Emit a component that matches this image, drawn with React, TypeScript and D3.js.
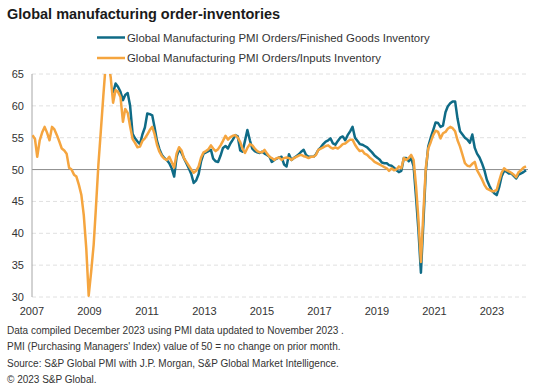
import React, { useRef, useEffect } from 'react';
import * as d3 from 'd3';

// Monthly readings, Jan 2007 .. Nov 2023
const startMonth = new Date(2007, 0, 1);

// Orders / Inputs Inventory (orange)
const inputsRatio: number[] = [
  55.4, 54.8, 52.0, 54.6, 55.8, 56.7, 55.8, 54.6, 56.7, 56.3, 55.4, 54.4,
  53.3, 53.0, 52.5, 50.3, 50.0, 49.2, 48.9, 47.6, 46.0, 42.8, 37.6, 30.2,
  34.0, 38.2, 44.0, 50.8, 56.0, 61.5, 66.5, 67.0, 64.5, 60.5, 62.5, 62.2,
  61.4, 57.5, 59.5, 58.9, 56.8, 54.8, 54.2, 53.5, 53.6, 54.5, 54.9, 55.5,
  56.2, 56.7, 55.6, 53.9, 52.8, 52.1, 51.7, 51.5, 52.0, 51.2, 50.3, 52.5,
  53.5, 53.0, 51.8, 51.2, 50.6, 50.0, 49.5, 49.8, 50.5, 51.9, 52.7, 52.9,
  53.2, 53.8, 53.3, 52.9, 53.2, 53.8, 54.5, 55.3, 54.7, 55.1, 55.3, 55.4,
  55.0, 54.3, 53.3, 52.6, 53.4, 54.0, 53.8, 53.3, 52.9, 52.7, 52.7, 53.1,
  52.5, 52.0, 51.8, 51.5, 51.8, 51.9, 51.5, 51.8, 51.9, 51.8, 51.5, 51.8,
  52.0, 52.2, 52.3, 52.1, 52.0, 51.8, 52.0, 52.0, 52.3, 53.1, 53.3, 53.5,
  53.7, 53.8, 53.5, 53.3, 53.5, 53.3, 53.6, 54.0, 54.1, 54.4, 54.7, 54.7,
  53.9, 53.3, 52.9, 53.0, 52.5, 52.3, 51.9, 51.6, 51.2, 51.0, 50.8, 50.6,
  50.4, 50.2, 49.8, 50.2, 49.9, 50.0, 50.5, 50.2, 51.8, 51.5, 51.8, 52.3,
  51.5, 47.3, 42.1, 35.5, 43.1, 50.3, 53.3, 54.3, 55.4, 56.1, 55.9, 54.9,
  55.7, 55.9, 56.4, 56.7, 56.5, 56.0, 54.6, 53.6, 52.3, 51.0, 50.6, 50.5,
  50.9, 51.2, 49.9, 49.2, 48.5, 47.6, 47.0, 46.8, 46.6, 46.6, 46.8, 48.2,
  49.5, 50.2, 49.9, 49.7, 49.5, 49.2, 48.8, 49.6, 49.9, 50.3, 50.5,
];

// Orders / Finished Goods Inventory (teal), first reading Oct 2009
const finishedOffset = 33;
const finishedRatio: number[] = [
  62.0, 63.5, 63.0,
  62.2, 60.9, 61.7, 62.0, 60.0, 55.6, 54.9, 54.4, 54.0, 55.5, 56.6, 58.8,
  58.7, 58.5, 56.7, 54.5, 53.2, 52.3, 51.8, 51.5, 51.0, 50.2, 48.9, 52.0,
  53.2, 52.6, 51.8, 51.0, 50.2, 49.3, 47.9, 48.3, 49.3, 51.3, 52.5, 52.7,
  52.9, 53.1, 51.7, 51.3, 51.2, 52.2, 53.4, 53.7, 53.3, 54.1, 54.7, 55.4,
  55.2, 53.0, 52.8, 54.5, 56.2, 54.6, 53.3, 52.9, 52.7, 52.6, 52.8, 52.5,
  52.3, 52.0, 51.2, 51.5, 51.7, 51.9, 52.0, 50.8, 50.5, 52.4, 51.5, 51.8,
  52.1, 52.4, 52.8, 53.1, 52.3, 52.0, 52.0, 52.0, 52.4, 53.1, 53.5, 54.0,
  54.4, 54.6, 54.9, 54.1, 53.9, 54.5, 55.0, 55.2, 54.6, 55.4, 56.0, 56.7,
  55.0, 54.5, 54.0, 53.9, 53.7, 53.5, 53.1, 52.7, 52.2, 51.9, 51.6, 51.1,
  51.0, 51.0, 50.7, 50.6, 50.3, 49.9, 49.6, 49.8, 51.8, 51.8, 51.3, 51.8,
  50.5, 45.5, 40.5, 33.8, 41.5, 49.8, 53.6, 55.0, 56.2, 57.4, 57.3, 56.7,
  56.9, 59.0, 59.9, 60.4, 60.7, 60.7, 58.0, 56.0, 55.5, 55.0, 54.7, 54.2,
  55.5, 53.4, 52.5, 51.9, 51.0, 49.9, 48.4, 47.5, 46.7, 46.3, 46.0, 47.2,
  48.9, 49.8, 49.7, 49.4, 49.4, 49.0, 48.6, 49.2, 49.4, 49.6, 49.9,
];

const yTicks = [30, 35, 40, 45, 50, 55, 60, 65];
const xLabels = ['2007', '2009', '2011', '2013', '2015', '2017', '2019', '2021', '2023'];

const seriesNames = [
  'Global Manufacturing PMI Orders/Finished Goods Inventory',
  'Global Manufacturing PMI Orders/Inputs Inventory',
];

const footnotes = [
  'Data compiled December 2023 using PMI data updated to November 2023 .',
  "PMI (Purchasing Managers' Index) value of 50 = no change on prior month.",
  'Source: S&P Global PMI with J.P. Morgan, S&P Global Market Intelligence.',
  '\u00a9 2023 S&P Global.',
];

const TEAL = '#0f6b86';
const ORANGE = '#f5a53f';
const FONT = '"Liberation Sans", Arial, sans-serif';

interface Pt { date: Date; value: number; }

const toPoints = (vals: number[], offset: number): Pt[] =>
  vals.map((v, i) => ({ date: d3.timeMonth.offset(startMonth, offset + i), value: v }));

const App: React.FC = () => {
  const svgRef = useRef<SVGSVGElement | null>(null);
  const width = 533;
  const height = 391;

  useEffect(() => {
    document.body.style.margin = '0';
    if (!svgRef.current) return;

    const plot = { left: 32, right: 528, top: 74, bottom: 297 };

    d3.select(svgRef.current).selectAll('*').remove();
    const svg = d3.select(svgRef.current)
      .attr('width', width)
      .attr('height', height)
      .style('font-family', FONT);

    const inputs = toPoints(inputsRatio, 0);
    const finished = toPoints(finishedRatio, finishedOffset);

    const xScale = d3.scaleTime()
      .domain([startMonth, inputs[inputs.length - 1].date])
      .range([plot.left + 0.5, plot.right - 2]);

    const yScale = d3.scaleLinear()
      .domain([30, 65])
      .range([plot.bottom, plot.top]);

    const labelScale = d3.scalePoint<string>()
      .domain(xLabels)
      .range([32, 492]);

    // Title
    svg.append('text')
      .attr('x', 7)
      .attr('y', 19)
      .attr('font-size', '14.5px')
      .attr('font-weight', 'bold')
      .attr('fill', '#1a1a1a')
      .text('Global manufacturing order-inventories');

    // Legend
    const legend = svg.append('g');
    [TEAL, ORANGE].forEach((c, i) => {
      const ly = 37.5 + i * 20.5;
      legend.append('line')
        .attr('x1', 97).attr('x2', 125)
        .attr('y1', ly).attr('y2', ly)
        .attr('stroke', c)
        .attr('stroke-width', 2.5);
      legend.append('text')
        .attr('x', 127)
        .attr('y', ly + 4)
        .attr('font-size', '11.4px')
        .attr('fill', '#333')
        .text(seriesNames[i]);
    });

    // Grid
    svg.append('g')
      .selectAll('line')
      .data(yTicks.filter(d => d !== 50))
      .enter()
      .append('line')
      .attr('x1', plot.left)
      .attr('x2', plot.right)
      .attr('y1', d => yScale(d))
      .attr('y2', d => yScale(d))
      .attr('stroke', '#e0e0e0')
      .attr('stroke-width', 1)
      .attr('stroke-dasharray', '4,3');

    svg.append('line')
      .attr('x1', plot.left)
      .attr('x2', plot.right)
      .attr('y1', yScale(50))
      .attr('y2', yScale(50))
      .attr('stroke', '#8c8c8c')
      .attr('stroke-width', 1);

    // Y axis line + labels
    svg.append('line')
      .attr('x1', plot.left)
      .attr('x2', plot.left)
      .attr('y1', plot.top)
      .attr('y2', plot.bottom)
      .attr('stroke', '#a6a6a6');

    svg.append('g')
      .selectAll('text')
      .data(yTicks)
      .enter()
      .append('text')
      .attr('x', 24)
      .attr('y', d => yScale(d) + 4)
      .attr('text-anchor', 'end')
      .attr('font-size', '11px')
      .attr('fill', '#333')
      .text(d => d);

    // X labels
    svg.append('g')
      .selectAll('text')
      .data(xLabels)
      .enter()
      .append('text')
      .attr('x', d => labelScale(d) || 0)
      .attr('y', 315)
      .attr('text-anchor', 'middle')
      .attr('font-size', '11px')
      .attr('fill', '#333')
      .text(d => d);

    // Clip
    svg.append('clipPath')
      .attr('id', 'plot-clip')
      .append('rect')
      .attr('x', plot.left)
      .attr('y', plot.top)
      .attr('width', plot.right - plot.left)
      .attr('height', plot.bottom - plot.top + 2);

    const line = d3.line<Pt>()
      .x(d => xScale(d.date))
      .y(d => yScale(d.value));

    const lines = svg.append('g').attr('clip-path', 'url(#plot-clip)');

    lines.append('path')
      .datum(finished)
      .attr('fill', 'none')
      .attr('stroke', TEAL)
      .attr('stroke-width', 2.5)
      .attr('stroke-linejoin', 'round')
      .attr('d', line);

    lines.append('path')
      .datum(inputs)
      .attr('fill', 'none')
      .attr('stroke', ORANGE)
      .attr('stroke-width', 2.5)
      .attr('stroke-linejoin', 'round')
      .attr('d', line);

    // Footnotes
    svg.append('g')
      .selectAll('text')
      .data(footnotes)
      .enter()
      .append('text')
      .attr('x', 7)
      .attr('y', (_, i) => 334 + i * 16.3)
      .attr('font-size', '10px')
      .attr('fill', '#333')
      .text(d => d);
  }, []);

  return (
    <div>
      <svg ref={svgRef} />
    </div>
  );
};

export default App;
